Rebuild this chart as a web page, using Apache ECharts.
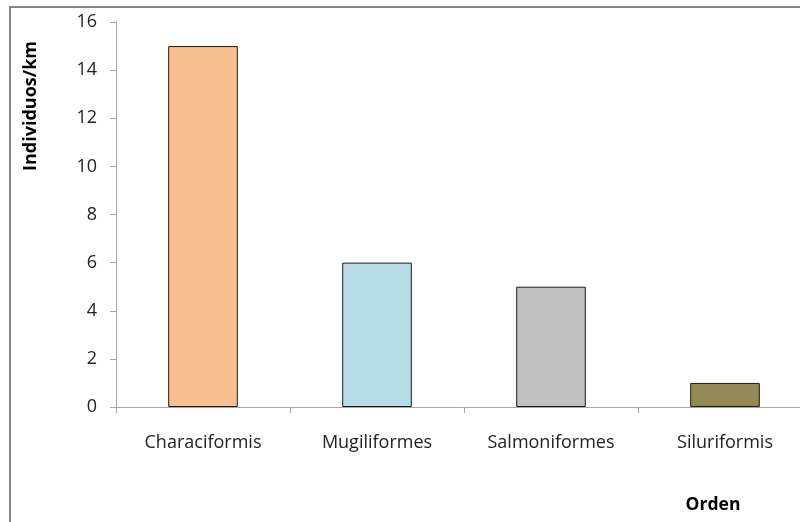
<!DOCTYPE html>
<html><head><meta charset="utf-8">
<script src="https://cdn.jsdelivr.net/npm/echarts@6/dist/echarts.min.js"></script>
<style>html,body{margin:0;padding:0;background:#fff}#c{width:800px;height:522px}</style>
</head><body><div id="c"></div>
<script>
const categories = ['Characiformis', 'Mugiliformes', 'Salmoniformes', 'Siluriformis'];
const values = [15, 6, 5, 1];
const barColors = ['#FAC090', '#B7DEE8', '#C0C0C0', '#948A54'];
const yTitle = 'Individuos/km';
const xTitle = 'Orden';

const chart = echarts.init(document.getElementById('c'));
const font = '"Open Sans", Lato, sans-serif';
chart.setOption({
  animation: false,
  backgroundColor: '#fff',
  grid: {left: 116, top: 22, height: 385, width: 696, containLabel: false, outerBoundsMode: 'none'},
  graphic: [
    {type: 'rect', shape: {x: 10, y: 7, width: 900, height: 600}, style: {fill: 'none', stroke: '#868686', lineWidth: 2}},
    {type: 'text', x: 31, y: 106, rotation: Math.PI / 2, style: {text: yTitle, font: 'bold 18px ' + font, fill: '#000', align: 'center', verticalAlign: 'middle'}},
    {type: 'text', x: 713, y: 505, style: {text: xTitle, font: 'bold 17.5px ' + font, fill: '#000', align: 'center', verticalAlign: 'middle'}}
  ],
  xAxis: {
    type: 'category', data: categories,
    axisLine: {lineStyle: {color: '#A6A6A6', width: 1}},
    axisTick: {show: true, length: 6, alignWithLabel: false, lineStyle: {color: '#A6A6A6'}},
    axisLabel: {color: '#222', fontSize: 18, fontFamily: font, margin: 27, interval: 0}
  },
  yAxis: {
    type: 'value', min: 0, max: 16, interval: 2,
    axisLine: {show: true, lineStyle: {color: '#A6A6A6', width: 1}},
    axisTick: {show: true, length: 6, lineStyle: {color: '#A6A6A6'}},
    splitLine: {show: false},
    axisLabel: {color: '#222', fontSize: 18, fontFamily: font, margin: 19}
  },
  series: [{
    type: 'bar', barWidth: '40%',
    data: values.map((v, i) => ({value: v, itemStyle: {color: barColors[i]}})),
    itemStyle: {borderColor: '#1a1a1a', borderWidth: 1}
  }]
});
</script></body></html>
